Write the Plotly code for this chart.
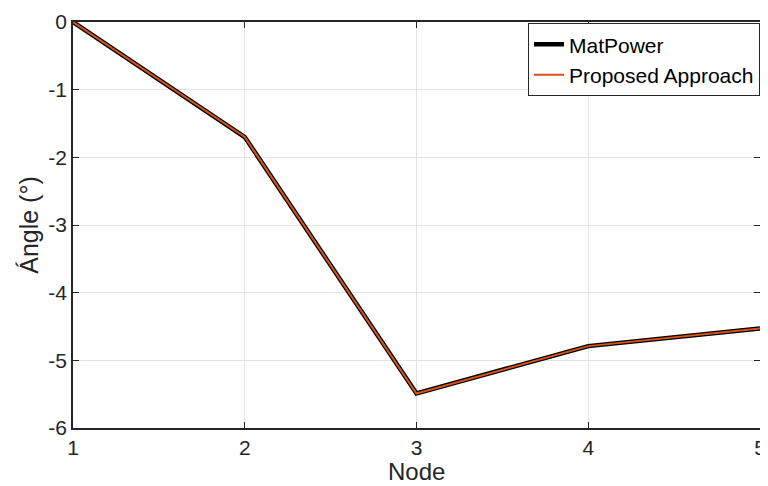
import plotly.graph_objects as go

nodes = [1, 2, 3, 4, 5]
matpower = [0, -1.70, -5.49, -4.79, -4.53]
proposed = [0, -1.70, -5.49, -4.79, -4.53]
y_ticks = [0, -1, -2, -3, -4, -5, -6]
y_ticklabels = ["0", "-1", "-2", "-3", "-4", "-5", "-6"]

fig = go.Figure()
fig.add_trace(go.Scatter(x=nodes, y=matpower, mode="lines", name="MatPower",
                         line=dict(color="black", width=4.5)))
fig.add_trace(go.Scatter(x=nodes, y=proposed, mode="lines", name="Proposed Approach",
                         line=dict(color="#D95319", width=2)))

axis_common = dict(showline=True, linecolor="#262626", linewidth=1.5, mirror="ticks",
                   ticks="inside", ticklen=6, tickcolor="#262626",
                   showgrid=True, gridcolor="#E3E3E3", gridwidth=1,
                   zeroline=False, tickfont=dict(size=21, color="#262626"),
                   ticklabeloverflow="allow")

fig.update_layout(
    width=760, height=478,
    margin=dict(l=65, r=2, t=12, b=58),
    paper_bgcolor="white", plot_bgcolor="white",
    font=dict(family="Liberation Sans, Arial", color="#262626"),
    xaxis=dict(range=[1, 5], tickvals=nodes, ticklabelstandoff=0, **axis_common),
    yaxis=dict(range=[-6, 0], tickvals=y_ticks, ticktext=y_ticklabels,
               title=dict(text="Ángle (°)", font=dict(size=25), standoff=3), **axis_common),
    legend=dict(x=1.0, y=0.997, xanchor="right", yanchor="top", bgcolor="white",
                bordercolor="#262626", borderwidth=1, font=dict(size=21, color="black"),
                tracegroupgap=0, itemwidth=30),
    showlegend=True,
    annotations=[dict(text="Node", xref="paper", yref="paper", x=0.5, y=-0.108,
                      xanchor="center", yanchor="middle", showarrow=False,
                      font=dict(size=24, color="#262626"))],
)
fig.write_html("out.html")
